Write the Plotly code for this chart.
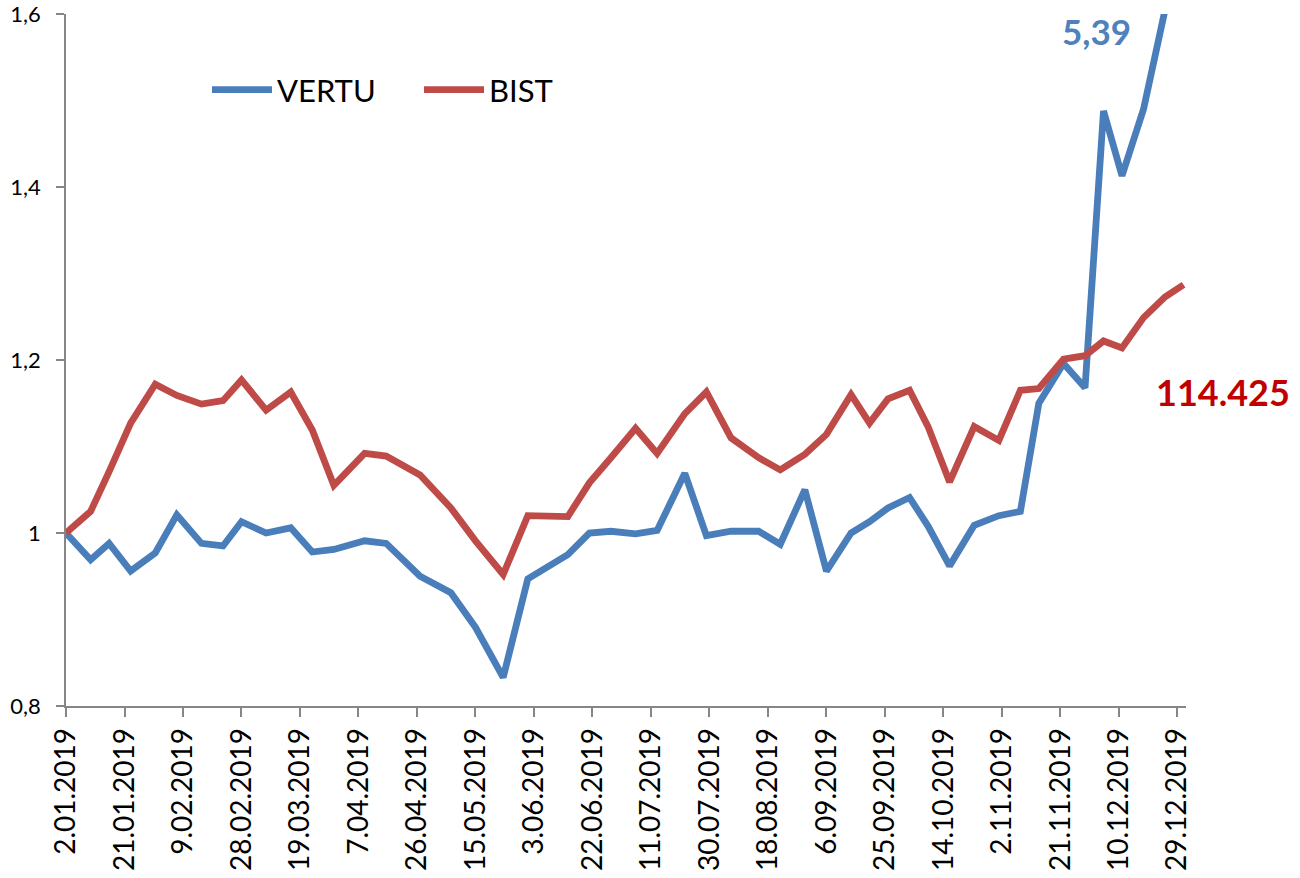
import plotly.graph_objects as go

dates = ["2019-01-02", "2019-01-10", "2019-01-16", "2019-01-23", "2019-01-31",
         "2019-02-07", "2019-02-15", "2019-02-22", "2019-02-28", "2019-03-08",
         "2019-03-16", "2019-03-23", "2019-03-30", "2019-04-09", "2019-04-16",
         "2019-04-27", "2019-05-07", "2019-05-15", "2019-05-24", "2019-06-01",
         "2019-06-14", "2019-06-21", "2019-06-28", "2019-07-06", "2019-07-13",
         "2019-07-22", "2019-07-29", "2019-08-06", "2019-08-15", "2019-08-22",
         "2019-08-30", "2019-09-06", "2019-09-14", "2019-09-20", "2019-09-26",
         "2019-10-03", "2019-10-09", "2019-10-16", "2019-10-24", "2019-11-01",
         "2019-11-08", "2019-11-14", "2019-11-22", "2019-11-29", "2019-12-05",
         "2019-12-11", "2019-12-18", "2019-12-25", "2019-12-31"]

vertu = [1.000, 0.969, 0.988, 0.956, 0.977, 1.021, 0.988, 0.985, 1.013, 1.000,
         1.006, 0.978, 0.981, 0.991, 0.988, 0.950, 0.931, 0.891, 0.833, 0.947,
         0.975, 1.000, 1.002, 0.999, 1.003, 1.069, 0.997, 1.002, 1.002, 0.987,
         1.050, 0.956, 1.000, 1.013, 1.029, 1.041, 1.008, 0.962, 1.009, 1.020,
         1.025, 1.150, 1.196, 1.168, 1.488, 1.413, 1.490, 1.605, 1.900]

bist = [1.000, 1.025, 1.071, 1.127, 1.172, 1.159, 1.149, 1.153, 1.177, 1.142,
        1.163, 1.119, 1.055, 1.092, 1.089, 1.067, 1.029, 0.991, 0.952, 1.020,
        1.019, 1.058, 1.087, 1.121, 1.092, 1.138, 1.163, 1.110, 1.087, 1.073,
        1.091, 1.114, 1.160, 1.127, 1.155, 1.165, 1.123, 1.059, 1.123, 1.107,
        1.165, 1.167, 1.201, 1.205, 1.222, 1.214, 1.249, 1.273, 1.287]

x_tick_dates = ["2019-01-02", "2019-01-21", "2019-02-09", "2019-02-28", "2019-03-19",
                "2019-04-07", "2019-04-26", "2019-05-15", "2019-06-03", "2019-06-22",
                "2019-07-11", "2019-07-30", "2019-08-18", "2019-09-06", "2019-09-25",
                "2019-10-14", "2019-11-02", "2019-11-21", "2019-12-10", "2019-12-29"]
x_tick_text = ["2.01.2019", "21.01.2019", "9.02.2019", "28.02.2019", "19.03.2019",
               "7.04.2019", "26.04.2019", "15.05.2019", "3.06.2019", "22.06.2019",
               "11.07.2019", "30.07.2019", "18.08.2019", "6.09.2019", "25.09.2019",
               "14.10.2019", "2.11.2019", "21.11.2019", "10.12.2019", "29.12.2019"]

y_tick_vals = [0.8, 1.0, 1.2, 1.4, 1.6]
y_tick_text = ["0,8", "1", "1,2", "1,4", "1,6"]

BLUE = "#4A7EBB"
RED = "#BE4B48"
AXIS = "#868686"
FONT = "Lato, 'Open Sans', sans-serif"

fig = go.Figure()
fig.add_trace(go.Scatter(x=dates, y=vertu, mode="lines", name="VERTU",
                         line=dict(color=BLUE, width=6.8)))
fig.add_trace(go.Scatter(x=dates, y=bist, mode="lines", name="BIST",
                         line=dict(color=RED, width=6.8)))

W, H = 1300, 878
L, R, T, B = 66, 114, 14, 172
pw, ph = W - L - R, H - T - B

def px(xp):
    return (xp - L) / pw

def py(yp):
    return (H - B - yp) / ph

fig.update_layout(
    width=W, height=H,
    margin=dict(l=L, r=R, t=T, b=B, pad=0, autoexpand=False),
    paper_bgcolor="white", plot_bgcolor="white",
    font=dict(family=FONT, color="black"),
    showlegend=True,
    legend=dict(orientation="h", x=px(207), y=py(90), xanchor="left", yanchor="middle",
                font=dict(family=FONT, size=31, color="black"),
                bgcolor="rgba(0,0,0,0)", itemwidth=60,
                entrywidth=137, entrywidthmode="pixels",
                tracegroupgap=0),
    xaxis=dict(type="date", range=["2019-01-02", "2019-12-31 19:00"],
               tickvals=x_tick_dates, ticktext=x_tick_text, tickangle=-90,
               tickfont=dict(family=FONT, size=28, color="black"),
               automargin=False, ticklabeloverflow="allow",
               showgrid=False, zeroline=False, showline=True, linecolor=AXIS, linewidth=1.5,
               ticks="outside", ticklen=9, tickcolor=AXIS, tickwidth=1.5),
    yaxis=dict(range=[0.8, 1.6], tickvals=y_tick_vals, ticktext=y_tick_text,
               tickfont=dict(family=FONT, size=22, color="black"),
               automargin=False, ticklabeloverflow="allow",
               showgrid=False, zeroline=False, showline=True, linecolor=AXIS, linewidth=1.5,
               ticks="outside", ticklen=8, tickcolor=AXIS, tickwidth=1.5,
               ticklabelstandoff=11),
    annotations=[
        dict(text="<b>5,39</b>", xref="paper", yref="paper", x=px(1096), y=py(31),
             xanchor="center", yanchor="middle", showarrow=False,
             font=dict(family=FONT, size=35, color="#4F81BD")),
        dict(text="<b>114.425</b>", xref="paper", yref="paper", x=px(1223), y=py(392),
             xanchor="center", yanchor="middle", showarrow=False,
             font=dict(family=FONT, size=36, color="#C00000")),
    ],
)

fig.write_html("out.html",
               config={"displayModeBar": False},
               post_script="document.body.style.margin='0';document.body.style.padding='0';")
